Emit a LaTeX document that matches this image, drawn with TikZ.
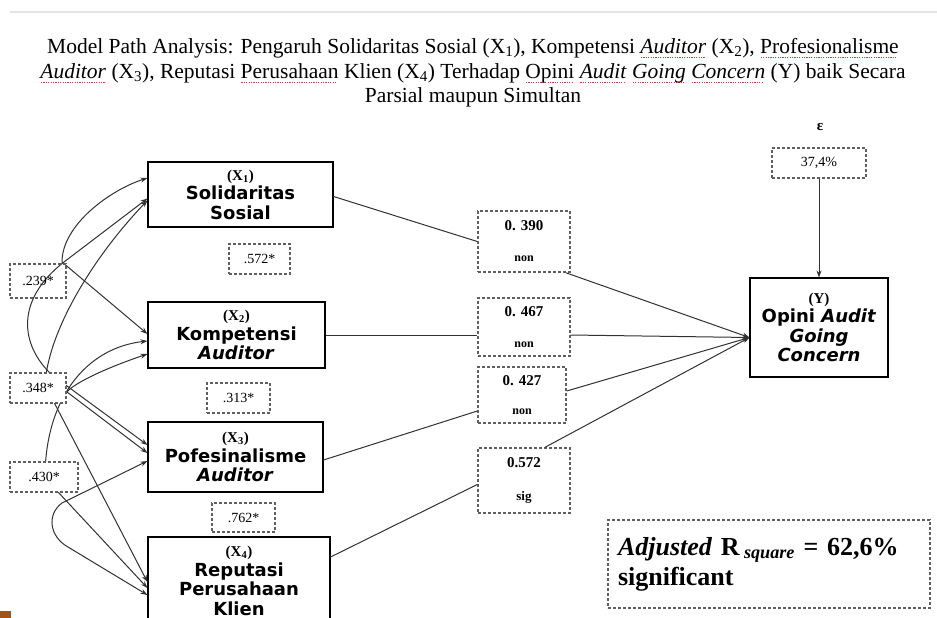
\documentclass[tikz,border=0pt]{standalone}
\usepackage{fontspec}
\setmainfont{Liberation Serif}
\setsansfont{DejaVu Sans}
\usepackage{xcolor}
\usepackage{tikz}
\usetikzlibrary{arrows.meta}
\definecolor{linegray}{RGB}{50,50,50}
\definecolor{dashgray}{RGB}{95,95,95}
\definecolor{rulegray}{RGB}{228,228,228}
\definecolor{markbrown}{RGB}{165,82,25}
\definecolor{spellred}{RGB}{225,60,60}
\newcommand{\spellmark}[1]{\setbox0=\hbox{#1}\rlap{\textcolor{spellred}{\raisebox{-4.5pt}{\hbox to \wd0{\leaders\hbox to 2.4pt{\hss\rule{1.2pt}{1.2pt}\hss}\hfill}}}}\box0\relax}

\begin{document}
\begin{tikzpicture}[x=1pt,y=-1pt,>={Stealth[length=7pt,width=5pt]},
  var/.style={draw=black,line width=1.1pt,fill=white,align=center,inner sep=0pt,
    font=\sffamily\bfseries\fontsize{18}{19.5}\selectfont},
  coef/.style={draw=dashgray,dash pattern=on 3pt off 2pt,line width=1.4pt,fill=white,align=center,inner sep=0pt,
    font=\bfseries\fontsize{15}{15}\selectfont},
  corr/.style={draw=dashgray,dash pattern=on 3pt off 2pt,line width=1.4pt,fill=white,inner sep=0pt,
    font=\fontsize{14}{14}\selectfont},
  link/.style={draw=linegray,line width=1pt}]
  \clip (0,0) rectangle (937,618);
  \fill[white] (0,0) rectangle (937,618);
  \draw[rulegray,line width=2pt] (10,12) -- (937,12);
  \fill[markbrown] (0,611) rectangle (11,618);

  \node (title) at (473,73) [align=center,font=\fontsize{21.5}{24.5}\selectfont]
    {Model Path Analysis: Pengaruh Solidaritas Sosial (X\textsubscript{1}), Kompetensi \spellmark{\textit{Auditor}} (X\textsubscript{2}), \spellmark{Profesionalisme}\\
     \spellmark{\textit{Auditor}} (X\textsubscript{3}), Reputasi \spellmark{Perusahaan} Klien (X\textsubscript{4}) Terhadap \spellmark{Opini} \spellmark{\textit{Audit}} \spellmark{\textit{Going}} \spellmark{\textit{Concern}} (Y) baik Secara\\
     Parsial maupun Simultan};

  \node[var,minimum width=185,minimum height=65] (x1) at (240.5,194.5)
    {{\rmfamily\fontsize{15}{14}\selectfont (X\textsubscript{1})}\\Solidaritas\\Sosial};
  \node[var,minimum width=177,minimum height=66] (x2) at (236.5,335)
    {{\rmfamily\fontsize{15}{14}\selectfont (X\textsubscript{2})}\\Kompetensi\\\textit{Auditor}};
  \node[var,minimum width=175,minimum height=70] (x3) at (235.5,457)
    {{\rmfamily\fontsize{15}{14}\selectfont (X\textsubscript{3})}\\Pofesinalisme\\\textit{Auditor}};
  \node[var,minimum width=182,minimum height=88] (x4) at (239,581)
    {{\rmfamily\fontsize{15}{14}\selectfont (X\textsubscript{4})}\\Reputasi\\Perusahaan\\Klien};
  \node[var,minimum width=138,minimum height=99] (y) at (819,327.5)
    {{\rmfamily\fontsize{15}{14}\selectfont (Y)}\\Opini \textit{Audit}\\\textit{Going}\\\textit{Concern}};

  % correlation arcs, drawn before the labels so the labels sit on top
  \draw[link,<->] ([yshift=16.5]x1.west) .. controls (110,190) and (62,225) .. (62,262) -- (x2.west |- 0,334);
  \draw[link,<->] ([yshift=-4]x1.west) -- (64,262) .. controls (15,300) and (20,345) .. (52,375) -- (x3.west |- 0,445);
  \draw[link,<->] ([yshift=-6]x1.west) .. controls (95,255) and (48,330) .. (45,385) -- (x4.west |- 0,582);
  \draw[link,<->] (x2.west |- 0,341) .. controls (85,348) and (45,400) .. (45,478) -- (x4.west |- 0,588);
  \draw[link,<->] (x2.west |- 0,354) .. controls (100,370) and (72,385) .. (67,392) -- (x3.west |- 0,453);
  \draw[link,<->] (x3.west |- 0,461) -- (62,503) .. controls (46,515) and (50,537) .. (68,547) -- (x4.west |- 0,595);

  \node[coef,minimum width=92,minimum height=61] (p1) at (524,241.5) {0. 390\\[16pt]{\fontsize{12}{12}\selectfont non}};
  \node[coef,minimum width=92,minimum height=58] (p2) at (524,327) {0. 467\\[16pt]{\fontsize{12}{12}\selectfont non}};
  \node[coef,minimum width=88,minimum height=56] (p3) at (522,395) {0. 427\\[14pt]{\fontsize{12}{12}\selectfont non}};
  \node[coef,minimum width=92,minimum height=65] (p4) at (524,480.5) {0.572\\[18pt]{\fontsize{13}{13}\selectfont sig}};

  \node[corr,minimum width=61,minimum height=30] (r12) at (259.5,259) {.572*};
  \node[corr,minimum width=63,minimum height=30] (r23) at (238.5,398) {.313*};
  \node[corr,minimum width=63,minimum height=29] (r34) at (243.5,517.5) {.762*};
  \node[corr,fill=none,minimum width=56,minimum height=34] (c1) at (38,281) {.239*};
  \node[corr,minimum width=56,minimum height=30] (c2) at (38,388) {.348*};
  \node[corr,minimum width=68,minimum height=30] (c3) at (44,477) {.430*};

  \node[font=\bfseries\fontsize{15}{15}\selectfont] (eps) at (820,127) {ε};
  \node[corr,minimum width=94,minimum height=30] (e) at (819,163) {37,4\%};
  \node[coef,minimum width=322,minimum height=88,text width=302,align=left,
    font=\bfseries\fontsize{26}{30}\selectfont] (adj) at (769,564)
    {\textit{Adjusted} R\,\textsubscript{\textit{square}} = 62,6\%\\significant};

  \coordinate (yin) at ([yshift=-10]y.west);
  \draw[link] ([yshift=-2]x1.east) -- (p1.west);
  \draw[link] (x2.east) -- (p2.west |- x2.east);
  \draw[link] ([yshift=-3]x3.east) -- ([yshift=-16]p3.west);
  \draw[link] ([yshift=24]x4.east) -- ([yshift=-4]p4.west);
  \draw[link,->] ([xshift=-5]p1.south east) -- (yin);
  \draw[link,->] (p2.east |- x2.east) -- (yin);
  \draw[link,->] ([yshift=4]p3.east) -- (yin);
  \draw[link,->] ([xshift=21]p4.north) -- (yin);
  \draw[link,->] (e) -- (y);
\end{tikzpicture}
\end{document}
